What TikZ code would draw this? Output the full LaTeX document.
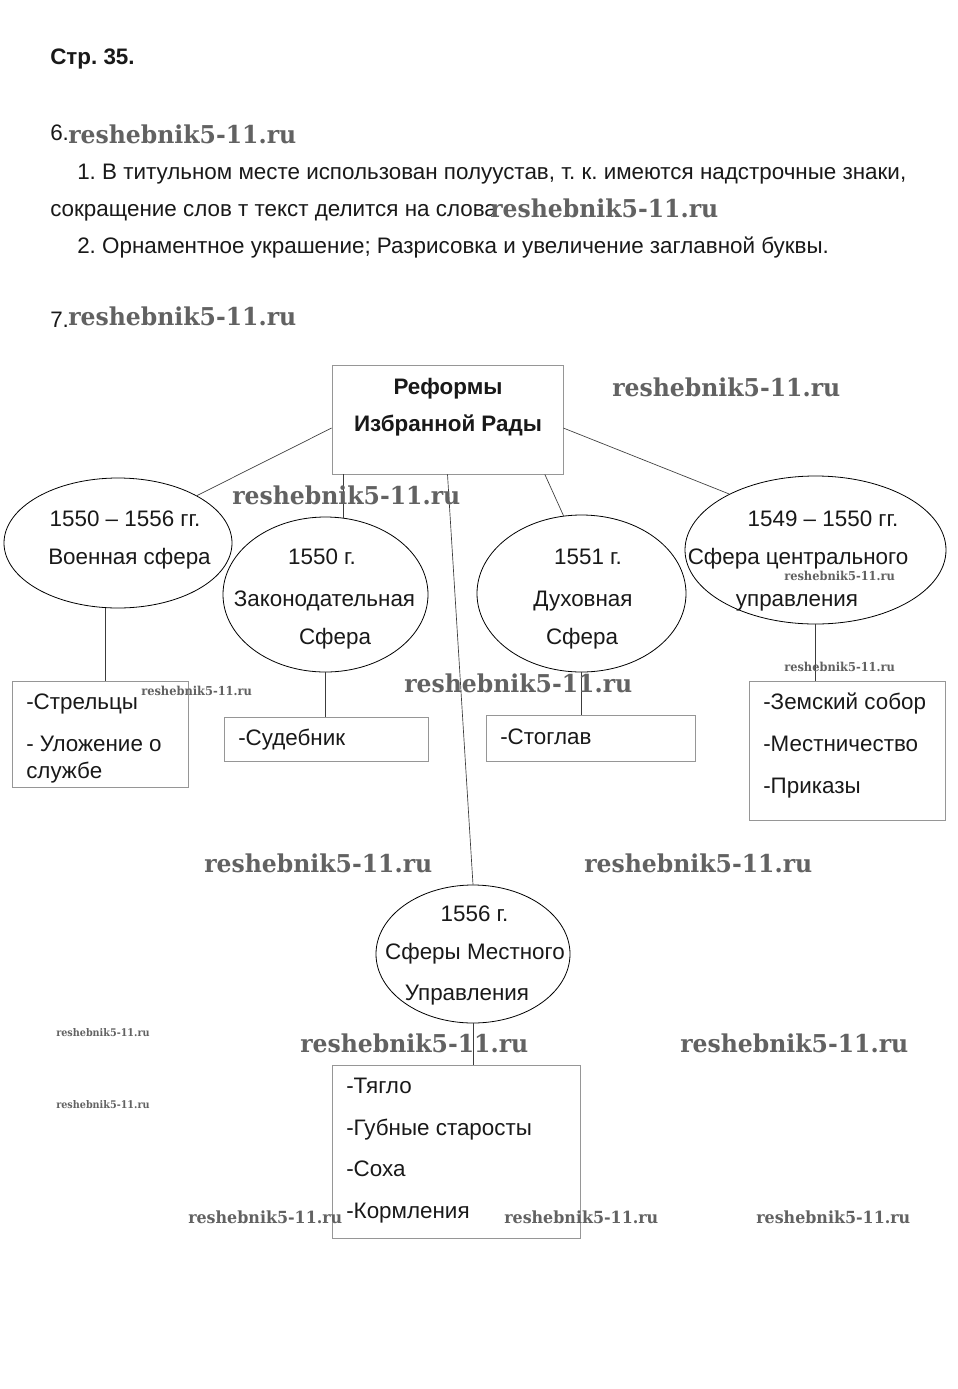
\documentclass[tikz,border=0pt]{standalone}
\usepackage{fontspec}
\usepackage{graphicx}
\setmainfont{Liberation Sans}
\newfontfamily\wmfont{DejaVu Serif}
\usetikzlibrary{shapes.geometric,calc}
\definecolor{wmgray}{RGB}{98,98,98}
\definecolor{boxgray}{RGB}{150,150,150}
\definecolor{linegray}{RGB}{60,60,60}
\frenchspacing
\tikzset{
  txt/.style={inner sep=0pt, font=\fontsize{16.8}{19}\selectfont, text=black!90},
  btxt/.style={txt, font=\fontsize{16.8}{19}\selectfont\bfseries},
  boxnode/.style={draw=boxgray, line width=0.6pt, rectangle, inner sep=0pt},
  ellnode/.style={draw=black, line width=0.6pt, ellipse, inner sep=0pt},
  conn/.style={draw=linegray, line width=0.5pt},
  wmark/.style={inner sep=0pt, anchor=west, text=wmgray},
}
\newcommand{\wmL}{\resizebox{171pt}{14pt}{\wmfont\bfseries reshebnik5-11.ru}}
\newcommand{\wmM}{\resizebox{115.5pt}{9.5pt}{\wmfont\bfseries reshebnik5-11.ru}}
\newcommand{\wmS}{\resizebox{83pt}{7pt}{\wmfont\bfseries reshebnik5-11.ru}}
\newcommand{\wmT}{\resizebox{70pt}{6pt}{\wmfont\bfseries reshebnik5-11.ru}}
\begin{document}
\begin{tikzpicture}[x=0.75pt,y=-0.75pt]
\path[use as bounding box, fill=white] (0,0) rectangle (957,1389);

% header and paragraphs
\node[btxt, anchor=mid west] (hdr) at (50,61) {Стр. 35.};
\node[txt, anchor=mid west] (n6) at (50,137) {6.};
\node[txt, anchor=mid west] (p1) at (77,176) {1. В титульном месте использован полуустав, т. к. имеются надстрочные знаки,};
\node[txt, anchor=mid west] (p2) at (50,213) {сокращение слов т текст делится на слова};
\node[txt, anchor=mid west] (p3) at (77,250) {2. Орнаментное украшение; Разрисовка и увеличение заглавной буквы.};
\node[txt, anchor=mid west] (n7) at (50,324) {7.};

% top box
\node[boxnode, minimum width=173.25pt, minimum height=81.75pt] (top) at (447.5,419.5) {};
\node[btxt, anchor=mid] (t1) at (448,391) {Реформы};
\node[btxt, anchor=mid] (t2) at (448,428) {Избранной Рады};

% ellipses
\node[ellnode, minimum width=171pt, minimum height=97.5pt] (E1) at (118,543) {};
\node[ellnode, minimum width=153.75pt, minimum height=116.25pt] (E2) at (325.5,594.5) {};
\node[ellnode, minimum width=156.75pt, minimum height=117.75pt] (E3) at (581.5,593.5) {};
\node[ellnode, minimum width=195.75pt, minimum height=111pt] (E4) at (815.5,550) {};
\node[ellnode, minimum width=145.5pt, minimum height=103.5pt] (E5) at (473,954) {};

\node[txt, anchor=mid] (e1a) at (125,523) {1550 – 1556 гг.};
\node[txt, anchor=mid] (e1b) at (129.5,561) {Военная сфера};
\node[txt, anchor=mid] (e2a) at (322,561) {1550 г.};
\node[txt, anchor=mid] (e2b) at (324.5,603) {Законодательная};
\node[txt, anchor=mid] (e2c) at (335,641) {Сфера};
\node[txt, anchor=mid] (e3a) at (588,561) {1551 г.};
\node[txt, anchor=mid] (e3b) at (583,603) {Духовная};
\node[txt, anchor=mid] (e3c) at (582,641) {Сфера};
\node[txt, anchor=mid] (e4a) at (823,523) {1549 – 1550 гг.};
\node[txt, anchor=mid] (e4b) at (798,561) {Сфера центрального};
\node[txt, anchor=mid] (e4c) at (797,603) {управления};
\node[txt, anchor=mid] (e5a) at (474.5,918) {1556 г.};
\node[txt, anchor=mid] (e5b) at (475,956) {Сферы Местного};
\node[txt, anchor=mid] (e5c) at (467,997) {Управления};

% boxes
\node[boxnode, minimum width=132pt, minimum height=79.5pt] (B1) at (100,734) {};
\node[boxnode, minimum width=153pt, minimum height=33pt] (B2) at (326,739) {};
\node[boxnode, minimum width=156.75pt, minimum height=34.5pt] (B3) at (590.5,738) {};
\node[boxnode, minimum width=147pt, minimum height=104.25pt] (B4) at (847,750.5) {};
\node[boxnode, minimum width=186pt, minimum height=129.75pt] (B5) at (456,1151.5) {};

\node[txt, anchor=mid west] (b1a) at (26,706) {-Стрельцы};
\node[txt, anchor=mid west] (b1b) at (26,748) {- Уложение о};
\node[txt, anchor=mid west] (b1c) at (26,775) {службе};
\node[txt, anchor=mid west] (b2a) at (238,742) {-Судебник};
\node[txt, anchor=mid west] (b3a) at (500,741) {-Стоглав};
\node[txt, anchor=mid west] (b4a) at (763,706) {-Земский собор};
\node[txt, anchor=mid west] (b4b) at (763,748) {-Местничество};
\node[txt, anchor=mid west] (b4c) at (763,790) {-Приказы};
\node[txt, anchor=mid west] (b5a) at (346,1090) {-Тягло};
\node[txt, anchor=mid west] (b5b) at (346,1132) {-Губные старосты};
\node[txt, anchor=mid west] (b5c) at (346,1173) {-Соха};
\node[txt, anchor=mid west] (b5d) at (346,1215) {-Кормления};

% connectors
\draw[conn] ([yshift=-6.4pt]top.west) -- (E1.31);
\draw[conn] ([yshift=-6.4pt]top.east) -- (E4.147);
\draw[conn] (E2.77 |- top.south) -- (E2.77);
\draw[conn] ([xshift=73pt]top.south) -- (E3.103);
\draw[conn] (top.south) -- (E5.north);
\draw[conn] (E1.259) -- (E1.259 |- B1.north);
\draw[conn] (E2.south) -- (E2.south |- B2.north);
\draw[conn] (E3.south) -- (E3.south |- B3.north);
\draw[conn] (E4.south) -- (E4.south |- B4.north);
\draw[conn] (E5.south) -- (E5.south |- B5.north);

% watermarks
\node[wmark] (w1) at (68,134) {\wmL};
\node[wmark] (w2) at (490,208) {\wmL};
\node[wmark] (w3) at (68,316) {\wmL};
\node[wmark] (w4) at (612,387) {\wmL};
\node[wmark] (w5) at (232,495) {\wmL};
\node[wmark] (w6) at (784,576) {\wmS};
\node[wmark] (w7) at (141,691) {\wmS};
\node[wmark] (w8) at (404,683) {\wmL};
\node[wmark] (w9) at (784,667) {\wmS};
\node[wmark] (w10) at (204,863) {\wmL};
\node[wmark] (w11) at (584,863) {\wmL};
\node[wmark] (w12) at (56,1033) {\wmT};
\node[wmark] (w13) at (300,1043) {\wmL};
\node[wmark] (w14) at (680,1043) {\wmL};
\node[wmark] (w15) at (56,1105) {\wmT};
\node[wmark] (w16) at (188,1217) {\wmM};
\node[wmark] (w17) at (504,1217) {\wmM};
\node[wmark] (w18) at (756,1217) {\wmM};
\end{tikzpicture}
\end{document}
